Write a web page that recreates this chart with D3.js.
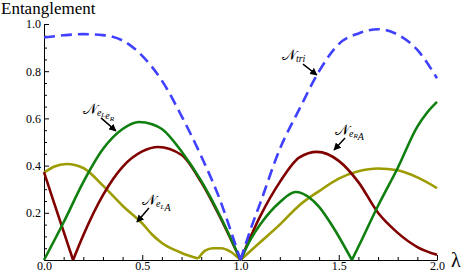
<!DOCTYPE html>
<html>
<head>
<meta charset="utf-8">
<script src="https://cdn.jsdelivr.net/npm/d3@7"></script>
<style>
  body { margin: 0; background: #fff; }
</style>
</head>
<body>
<div id="root"></div>
<script>
// ---- data ----
const triLam = [0, 0.1, 0.2, 0.3, 0.4, 0.5, 0.6, 0.7, 0.8, 0.9, 0.95, 1.0, 1.05, 1.1, 1.2, 1.3, 1.4, 1.5, 1.6, 1.7, 1.8, 1.9, 2.0];
const triVal = [0.943, 0.952, 0.957, 0.953, 0.93, 0.865, 0.76, 0.61, 0.44, 0.245, 0.125, 0, 0.127, 0.24, 0.47, 0.64, 0.80, 0.915, 0.96, 0.978, 0.955, 0.89, 0.77];
const triCusps = [1.0];

const lrLam = [0, 0.1, 0.2, 0.3, 0.4, 0.483, 0.55, 0.6, 0.7, 0.8, 0.9, 1.0, 1.05, 1.1, 1.2, 1.28, 1.35, 1.4, 1.47, 1.567, 1.6, 1.7, 1.8, 1.9, 1.95, 2.0];
const lrVal = [0, 0.16, 0.33, 0.47, 0.555, 0.585, 0.575, 0.555, 0.46, 0.335, 0.18, 0, 0.085, 0.15, 0.245, 0.288, 0.265, 0.225, 0.141, 0, 0.056, 0.23, 0.39, 0.565, 0.625, 0.67];
const lrCusps = [1.0, 1.567];

const raLam = [0, 0.05, 0.1, 0.148, 0.2, 0.3, 0.4, 0.5, 0.58, 0.7, 0.8, 0.9, 1.0, 1.1, 1.2, 1.3, 1.39, 1.5, 1.6, 1.7, 1.8, 1.9, 2.0];
const raVal = [0.372, 0.245, 0.12, 0, 0.105, 0.275, 0.395, 0.46, 0.479, 0.445, 0.33, 0.175, 0, 0.185, 0.33, 0.435, 0.458, 0.42, 0.33, 0.2, 0.115, 0.055, 0.022];
const raCusps = [0.148, 1.0];

const laLam = [0, 0.05, 0.115, 0.2, 0.3, 0.4, 0.5, 0.55, 0.6, 0.65, 0.7, 0.785, 0.82, 0.86, 0.9, 0.95, 1.0, 1.1, 1.2, 1.3, 1.4, 1.5, 1.6, 1.7, 1.8, 1.9, 2.0];
const laVal = [0.37, 0.395, 0.407, 0.39, 0.315, 0.23, 0.155, 0.108, 0.072, 0.048, 0.03, 0.006, 0.04, 0.05, 0.05, 0.035, 0, 0.075, 0.15, 0.232, 0.292, 0.345, 0.376, 0.388, 0.38, 0.35, 0.305];
const laCusps = [0.785, 1.0];

const xTicks = [0, 0.5, 1.0, 1.5, 2.0];
const yTicks = [0, 0.2, 0.4, 0.6, 0.8, 1.0];

// ---- layout ----
const width = 463;
const height = 273;
const serif = "Liberation Serif";

const svg = d3.select("#root")
  .append("svg")
    .attr("width", width)
    .attr("height", height)
    .style("font-family", serif);

const x = d3.scaleLinear().domain([0, 2]).range([44, 437]);
const y = d3.scaleLinear().domain([0, 1]).range([260, 24]);

// axes, ticks pointing inwards (Mathematica style)
const xMinor = d3.range(0, 2.0001, 0.1).filter(d => Math.abs(d * 2 - Math.round(d * 2)) > 1e-6);
const yMinor = d3.range(0, 1.0001, 0.05).filter(d => Math.abs(d * 5 - Math.round(d * 5)) > 1e-6);

const gx = svg.append("g").attr("transform", `translate(0, ${y(0)})`);
gx.call(d3.axisBottom(x).tickValues(xTicks).tickSize(-5).tickSizeOuter(0)
  .tickPadding(1).tickFormat(d3.format(".1f")));
gx.append("g").call(d3.axisBottom(x).tickValues(xMinor).tickSize(-3).tickSizeOuter(0).tickFormat(""))
  .select(".domain").remove();

const gy = svg.append("g").attr("transform", `translate(${x(0)}, 0)`);
gy.call(d3.axisLeft(y).tickValues(yTicks).tickSize(-5).tickSizeOuter(0)
  .tickPadding(3).tickFormat(d => d === 0 ? "" : d3.format(".1f")(d)));
gy.append("g").call(d3.axisLeft(y).tickValues(yMinor).tickSize(-3).tickSizeOuter(0).tickFormat(""))
  .select(".domain").remove();

svg.selectAll("g").attr("font-family", null);
svg.selectAll(".tick text")
  .attr("font-family", serif)
  .attr("font-size", 12)
  .attr("fill", "#000");
svg.selectAll(".domain, .tick line").attr("stroke", "#000").attr("stroke-width", 1);

// titles
svg.append("text")
  .text("Entanglement")
  .attr("x", 1).attr("y", 14)
  .attr("font-family", serif)
  .attr("font-size", 17);
svg.append("text")
  .text("λ")
  .attr("x", 451).attr("y", 267)
  .attr("font-family", serif)
  .attr("font-size", 20);

// ---- curves (split at cusps so the V-shapes stay sharp) ----
const lineGen = d3.line()
  .x(d => x(d[0]))
  .y(d => y(d[1]))
  .curve(d3.curveMonotoneX);

function segments(lam, val, cusps) {
  const pts = lam.map((l, i) => [l, val[i]]);
  const segs = [];
  let cur = [];
  pts.forEach(p => {
    cur.push(p);
    if (cusps.some(c => Math.abs(c - p[0]) < 1e-9)) {
      segs.push(cur);
      cur = [p];
    }
  });
  if (cur.length > 1) segs.push(cur);
  return segs;
}

const series = [
  { id: "la", lam: laLam, val: laVal, cusps: laCusps, color: "#9c9c00", dash: null },
  { id: "ra", lam: raLam, val: raVal, cusps: raCusps, color: "#800000", dash: null },
  { id: "lr", lam: lrLam, val: lrVal, cusps: lrCusps, color: "#0f7f0f", dash: null },
  { id: "tri", lam: triLam, val: triVal, cusps: triCusps, color: "#4040ff", dash: "11 6" }
];

series.forEach(s => {
  svg.append("g")
    .selectAll("path")
    .data(segments(s.lam, s.val, s.cusps))
    .enter()
    .append("path")
      .attr("d", lineGen)
      .attr("fill", "none")
      .attr("stroke", s.color)
      .attr("stroke-width", 2.6)
      .attr("stroke-dasharray", s.dash);
});

// ---- annotations (positions in data units) ----
svg.append("defs")
  .append("marker")
    .attr("id", "arrow")
    .attr("viewBox", "0 0 10 10")
    .attr("refX", 9).attr("refY", 5)
    .attr("markerWidth", 5).attr("markerHeight", 5)
    .attr("orient", "auto")
  .append("path")
    .attr("d", "M0,0L10,5L0,10Z")
    .attr("fill", "#000");

const notes = [
  { at: [0.198, 0.619], from: [0.29, 0.602], to: [0.366, 0.547], sub: [["e", "L"], ["e", "R"]] },
  { at: [0.499, 0.233], from: [0.534, 0.22], to: [0.473, 0.161], sub: [["e", "L"], ["A", null]] },
  { at: [1.211, 0.847], from: [1.318, 0.83], to: [1.389, 0.784], sub: [["tri", null]] },
  { at: [1.481, 0.53], from: [1.532, 0.517], to: [1.476, 0.466], sub: [["e", "R"], ["A", null]] }
];

notes.forEach(n => {
  svg.append("line")
    .attr("x1", x(n.from[0])).attr("y1", y(n.from[1]))
    .attr("x2", x(n.to[0])).attr("y2", y(n.to[1]))
    .attr("stroke", "#000")
    .attr("stroke-width", 1.5)
    .attr("marker-end", "url(#arrow)");

  const t = svg.append("text")
    .attr("x", x(n.at[0])).attr("y", y(n.at[1]))
    .attr("font-family", serif)
    .attr("font-size", 15);
  t.append("tspan").text("𝒩");
  n.sub.forEach(([main, low]) => {
    t.append("tspan").text(main)
      .attr("font-size", 10).attr("font-style", "italic")
      .attr("dy", 2);
    if (low) {
      t.append("tspan").text(low)
        .attr("font-size", 7).attr("font-style", "italic")
        .attr("dy", 1.5);
      t.append("tspan").attr("dy", -1.5).text("");
    }
    t.append("tspan").attr("dy", -2).text("");
  });
});
</script>
</body>
</html>
